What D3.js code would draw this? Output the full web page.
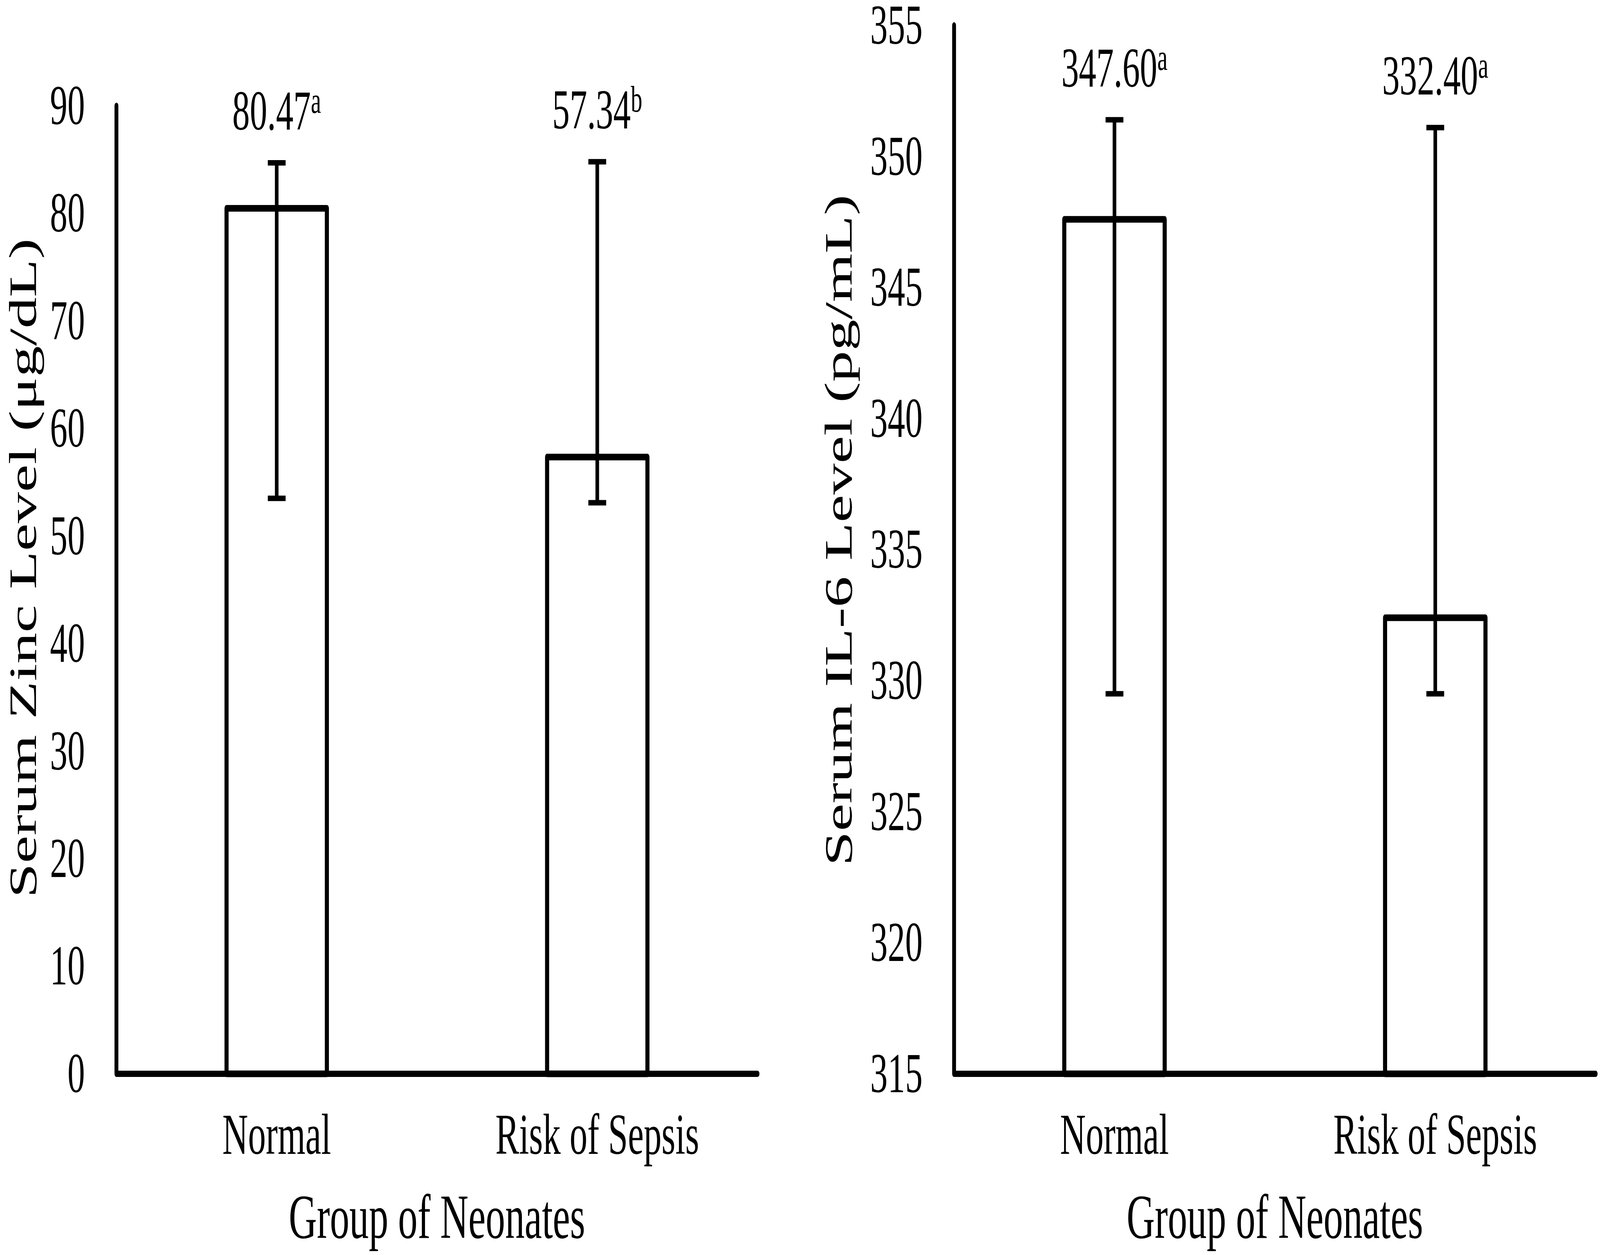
<!DOCTYPE html>
<html>
<head>
<meta charset="utf-8">
<script src="https://cdn.jsdelivr.net/npm/d3@7/dist/d3.min.js"></script>
<style>
  html, body { margin: 0; padding: 0; background: #fff; width: 100%; height: 100%; overflow: hidden; }
  svg { display: block; width: 100vw; height: 100vh; }
  text { font-family: "Liberation Serif", "Times New Roman", serif; fill: #000; }
</style>
</head>
<body>
<script>
// ---- data ----
const categories = ["Normal", "Risk of Sepsis"];

const zincMeans    = [80.47, 57.34];
const zincErrLow   = [53.5, 53.1];
const zincErrHigh  = [84.7, 84.8];
const zincLetters  = ["a", "b"];
const zincTicks    = [0, 10, 20, 30, 40, 50, 60, 70, 80, 90];

const il6Means     = [347.60, 332.40];
const il6ErrLow    = [329.5, 329.5];
const il6ErrHigh   = [351.4, 351.1];
const il6Letters   = ["a", "a"];
const il6Ticks     = [315, 320, 325, 330, 335, 340, 345, 350, 355];

const xTitle = "Group of Neonates";
const zincYTitle = "Serum Zinc Level (μg/dL)";
const il6YTitle = "Serum IL-6 Level (pg/mL)";

// ---- layout ----
const W = 6651, H = 3214;
const svg = d3.select("body").append("svg")
  .attr("viewBox", `0 0 ${W} ${H}`)
  .attr("preserveAspectRatio", "none");
svg.append("rect").attr("width", W).attr("height", H).attr("fill", "#fff");

function drawPanel(o) {
  const g = svg.append("g");
  const x = d3.scaleBand().domain(categories).range([o.left, o.right])
    .paddingInner(0.687).paddingOuter(0.3435);
  const y = d3.scaleLinear().domain([o.ticks[0], o.ticks[o.ticks.length - 1]])
    .range([o.bottom, o.top]);

  const rows = categories.map((c, i) => ({
    c, v: o.means[i], lo: o.low[i], hi: o.high[i], sup: o.letters[i]
  }));

  // bars
  g.selectAll("rect.bar").data(rows).join("rect")
    .attr("class", "bar")
    .attr("x", d => x(d.c))
    .attr("y", d => y(d.v))
    .attr("width", x.bandwidth())
    .attr("height", d => y(o.ticks[0]) - y(d.v))
    .attr("fill", "#fff")
    .attr("stroke", "#000")
    .attr("stroke-width", 17)
    .attr("stroke-linejoin", "round");

  // error bars
  const cx = d => x(d.c) + x.bandwidth() / 2;
  const capW = 74;
  g.selectAll("line.err").data(rows).join("line")
    .attr("class", "err")
    .attr("x1", cx).attr("x2", cx)
    .attr("y1", d => y(d.lo)).attr("y2", d => y(d.hi))
    .attr("stroke", "#000").attr("stroke-width", 15);
  ["lo", "hi"].forEach(k => {
    g.selectAll("line.cap" + k).data(rows).join("line")
      .attr("class", "cap" + k)
      .attr("x1", d => cx(d) - capW / 2).attr("x2", d => cx(d) + capW / 2)
      .attr("y1", d => y(d[k])).attr("y2", d => y(d[k]))
      .attr("stroke", "#000").attr("stroke-width", 14);
  });

  // value labels with superscript letters
  const lbl = g.selectAll("text.val").data(rows).join("text")
    .attr("class", "val")
    .attr("x", cx)
    .attr("y", d => y(d.hi) - 85)
    .attr("text-anchor", "middle")
    .attr("font-size", 145);
  lbl.append("tspan").text(d => d.v.toFixed(2));
  lbl.append("tspan").attr("font-size", 96).attr("dy", -43).text(d => d.sup);

  // axes
  const yAxis = d3.axisLeft(y).tickValues(o.ticks).tickSize(0).tickPadding(131)
    .tickFormat(d3.format("d"));
  const ya = g.append("g").attr("transform", `translate(${o.left},0)`).call(yAxis);
  ya.select(".domain").remove();
  ya.selectAll("text").attr("font-size", 145)
    .style("font-family", '"Liberation Serif", "Times New Roman", serif');

  const xAxis = d3.axisBottom(x).tickSize(0).tickPadding(0);
  const xa = g.append("g").attr("transform", `translate(0,${o.bottom})`).call(xAxis);
  xa.select(".domain").remove();
  xa.selectAll("text").attr("font-size", 148).attr("dy", null).attr("y", 205)
    .style("font-family", '"Liberation Serif", "Times New Roman", serif');

  // axis lines
  g.append("path")
    .attr("d", d3.line()([[o.left, o.top], [o.left, o.bottom], [o.right, o.bottom]]))
    .attr("fill", "none").attr("stroke", "#000").attr("stroke-width", 16)
    .attr("stroke-linejoin", "round").attr("stroke-linecap", "round");

  // titles
  g.append("text")
    .attr("x", (o.left + o.right) / 2).attr("y", 3170)
    .attr("text-anchor", "middle").attr("font-size", 162)
    .text(xTitle);
  g.append("text")
    .attr("transform", `translate(${o.yTitleX},${o.yTitleY}) rotate(-90)`)
    .attr("text-anchor", "middle").attr("font-size", 160)
    .text(o.yTitle);
}

drawPanel({
  left: 484, right: 3149, top: 271, bottom: 2750,
  ticks: zincTicks, means: zincMeans, low: zincErrLow, high: zincErrHigh,
  letters: zincLetters, yTitle: zincYTitle, yTitleX: 150, yTitleY: 1455
});
drawPanel({
  left: 3966, right: 6633, top: 65, bottom: 2750,
  ticks: il6Ticks, means: il6Means, low: il6ErrLow, high: il6ErrHigh,
  letters: il6Letters, yTitle: il6YTitle, yTitleX: 3540, yTitleY: 1358
});
</script>
</body>
</html>
